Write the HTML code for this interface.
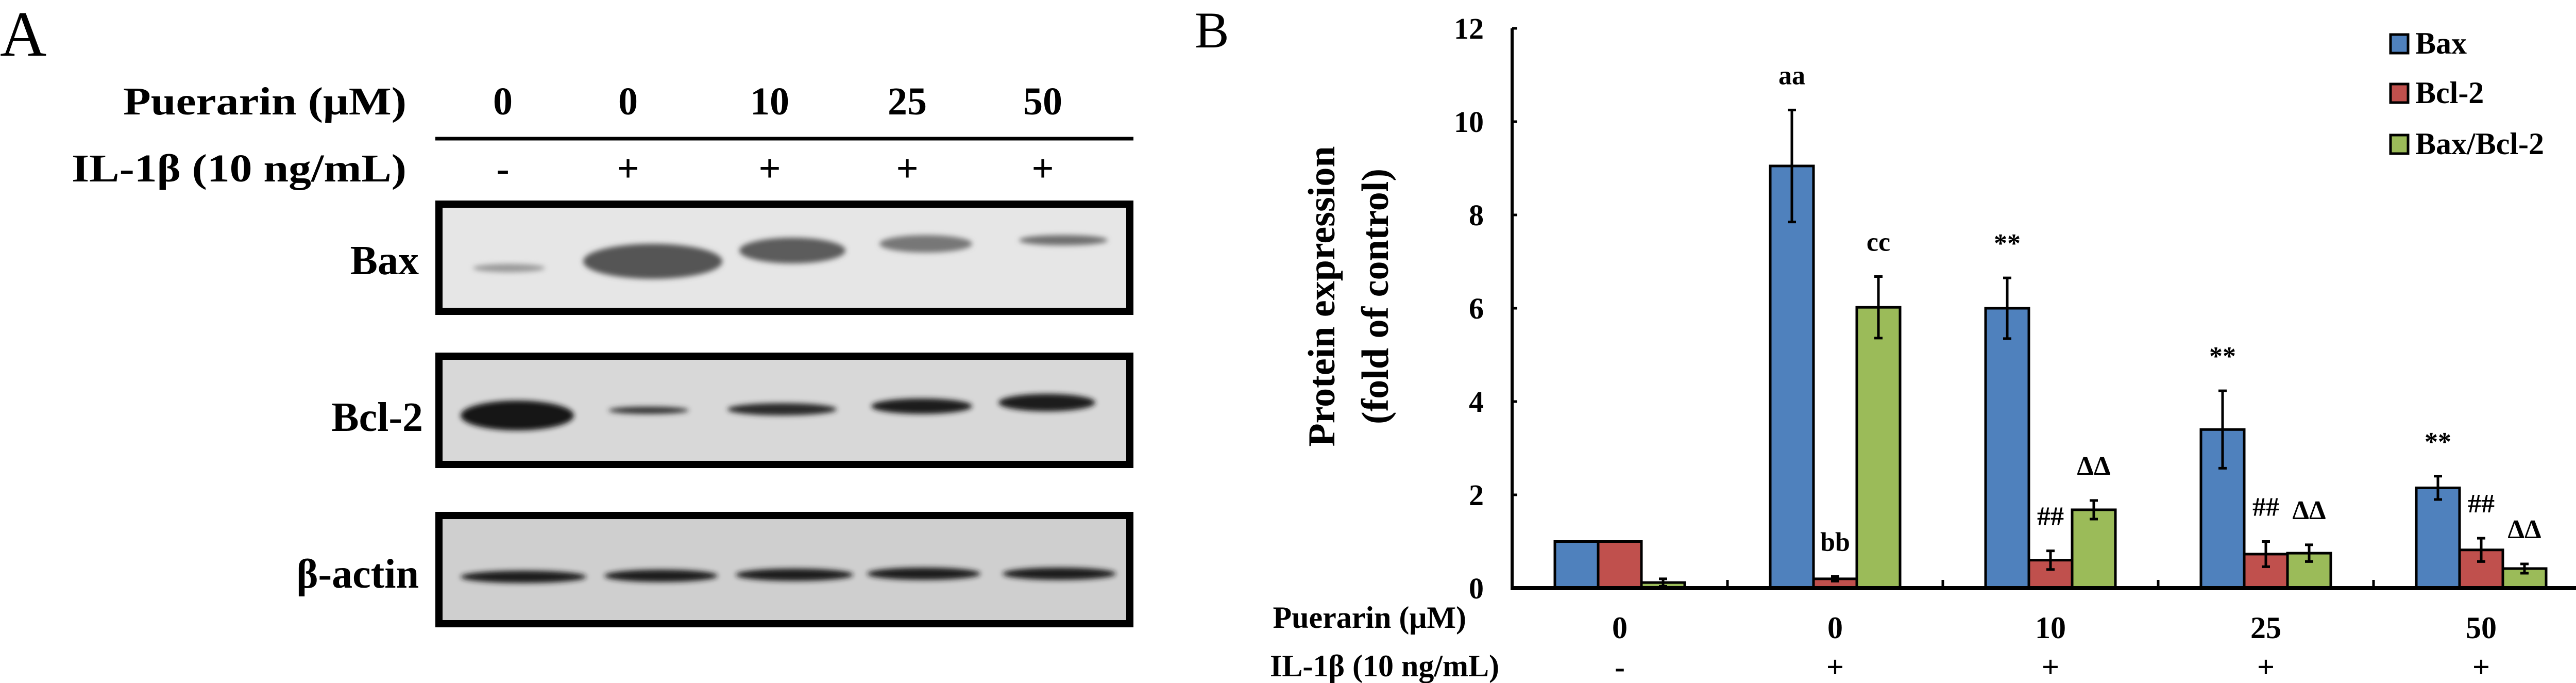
<!DOCTYPE html>
<html><head><meta charset="utf-8"><style>
html,body{margin:0;padding:0;background:#fff;}
svg{display:block;}
text{font-family:"Liberation Serif",serif;}
</style></head><body>
<svg id="fig" xmlns="http://www.w3.org/2000/svg" width="5025" height="1325" viewBox="0 0 5025 1325">
<defs>
<filter id="blur" x="-20%" y="-50%" width="140%" height="200%"><feGaussianBlur stdDeviation="5"/></filter>
</defs>
<!-- Panel A -->
<g>
<text x="0" y="108" font-size="125">A</text>
<text x="789" y="222" font-size="76" font-weight="bold" text-anchor="end" textLength="550" lengthAdjust="spacingAndGlyphs">Puerarin (μM)</text>
<text x="789" y="352" font-size="76" font-weight="bold" text-anchor="end" textLength="650" lengthAdjust="spacingAndGlyphs">IL-1β (10 ng/mL)</text>
<line x1="845" y1="269" x2="2200" y2="269" stroke="#000" stroke-width="7"/>
<g font-size="76" font-weight="bold" text-anchor="middle">
<text x="976" y="222">0</text>
<text x="1219" y="222">0</text>
<text x="1494" y="222">10</text>
<text x="1761" y="222">25</text>
<text x="2024" y="222">50</text>
<text x="976" y="352">-</text>
<text x="1219" y="352">+</text>
<text x="1494" y="352">+</text>
<text x="1761" y="352">+</text>
<text x="2024" y="352">+</text>
</g>
<!-- Bax blot -->
<rect x="852" y="396" width="1341" height="208" fill="#e6e6e6" stroke="#000" stroke-width="14"/>
<text x="813" y="532" font-size="80" font-weight="bold" text-anchor="end">Bax</text>
<g fill="#3a3a3a" filter="url(#blur)">
<ellipse cx="988" cy="520" rx="70" ry="8" fill="#999"/>
<ellipse cx="1267" cy="507" rx="135" ry="34" fill="#555"/>
<ellipse cx="1538" cy="486" rx="103" ry="25" fill="#5c5c5c"/>
<ellipse cx="1797" cy="473" rx="90" ry="17" fill="#777"/>
<ellipse cx="2064" cy="466" rx="86" ry="10" fill="#6e6e6e"/>
</g>
<!-- Bcl-2 blot -->
<rect x="852" y="691" width="1341" height="210" fill="#d8d8d8" stroke="#000" stroke-width="14"/>
<text x="821" y="836" font-size="80" font-weight="bold" text-anchor="end">Bcl-2</text>
<g filter="url(#blur)">
<ellipse cx="1004" cy="806" rx="110" ry="29" fill="#151515"/>
<ellipse cx="1259" cy="796" rx="78" ry="7" fill="#333"/>
<ellipse cx="1518" cy="794" rx="106" ry="12" fill="#2a2a2a"/>
<ellipse cx="1789" cy="788" rx="98" ry="15" fill="#1e1e1e"/>
<ellipse cx="2032" cy="781" rx="94" ry="17" fill="#1a1a1a"/>
</g>
<!-- actin blot -->
<rect x="852" y="1000" width="1341" height="210" fill="#cfcfcf" stroke="#000" stroke-width="14"/>
<text x="813" y="1140" font-size="80" font-weight="bold" text-anchor="end">β-actin</text>
<g fill="#1a1a1a" filter="url(#blur)">
<ellipse cx="1016" cy="1119" rx="122" ry="12"/>
<ellipse cx="1283" cy="1117" rx="110" ry="12"/>
<ellipse cx="1542" cy="1115" rx="114" ry="12"/>
<ellipse cx="1793" cy="1113" rx="110" ry="12"/>
<ellipse cx="2056" cy="1113" rx="110" ry="12"/>
</g>
</g>
<!-- Panel B -->
<text x="2319" y="92" font-size="100">B</text>
<g id="chart"></g>
</svg>
<script>
const doses = ["0", "0", "10", "25", "50"];
const il1b = ["-", "+", "+", "+", "+"];
const baxValues = [1.0, 9.05, 6.0, 3.4, 2.15];
const baxErrors = [0, 1.2, 0.65, 0.83, 0.25];
const bcl2Values = [1.0, 0.2, 0.6, 0.73, 0.82];
const bcl2Errors = [0, 0.05, 0.2, 0.27, 0.25];
const ratioValues = [0.12, 6.02, 1.68, 0.75, 0.42];
const ratioErrors = [0.08, 0.66, 0.2, 0.18, 0.1];
const baxMarks = ["", "aa", "**", "**", "**"];
const bcl2Marks = ["", "bb", "##", "##", "##"];
const ratioMarks = ["", "cc", "ΔΔ", "ΔΔ", "ΔΔ"];
const yTicks = [0, 2, 4, 6, 8, 10, 12];
const seriesNames = ["Bax", "Bcl-2", "Bax/Bcl-2"];

const NS = "http://www.w3.org/2000/svg";
const g = document.getElementById("chart");
const X0 = 2935, X1 = 5025, Y0 = 1141, Y1 = 55, YMAX = 12;
const groupW = (X1 - X0) / doses.length;
const barW = 84;
function y(v){ return Y0 - (v / YMAX) * (Y0 - Y1); }
function gx(i){ return X0 + groupW * (i + 0.5); }
function mk(tag, attrs, parent){
  const e = document.createElementNS(NS, tag);
  for (const k in attrs) e.setAttribute(k, attrs[k]);
  (parent || g).appendChild(e);
  return e;
}
// axis title
const t1 = mk("text", {x: 0, y: 0, "font-size": 74, "font-weight": "bold", "text-anchor": "middle", transform: "translate(2590,575) rotate(-90)"});
t1.textContent = "Protein expression";


const t2 = mk("text", {x: 0, y: 0, "font-size": 74, "font-weight": "bold", "text-anchor": "middle", transform: "translate(2694,575) rotate(-90)"});
t2.textContent = "(fold of control)";


// y ticks
yTicks.forEach(v => {
  const tl = mk("text", {x: 2880, y: y(v) + 20, "font-size": 58, "font-weight": "bold", "text-anchor": "end"});
  tl.textContent = v;
  
  
  const tk = mk("line", {x1: X0, x2: X0 + 10, y1: y(v), y2: y(v), stroke: "#000", "stroke-width": 5});
  
  
});
const colors = ["#4f81bd", "#c0504d", "#9bbb59"];
const vals = [baxValues, bcl2Values, ratioValues];
const errs = [baxErrors, bcl2Errors, ratioErrors];
const marks = [baxMarks, bcl2Marks, ratioMarks];
const keys = ["bax", "bcl2", "ratio"];
doses.forEach((d, i) => {
  for (let s = 0; s < 3; s++) {
    const v = vals[s][i], e = errs[s][i];
    const bx = gx(i) + (s - 1.5) * barW;
    const r = mk("rect", {x: bx, y: y(v), width: barW, height: Y0 - y(v), fill: colors[s], stroke: "#000", "stroke-width": 5});
    
    
    if (e > 0) {
      const cx = bx + barW / 2;
      const eb = mk("path", {d: `M${cx},${y(v+e)}V${y(v-e)}M${cx-8},${y(v+e)}H${cx+8}M${cx-8},${y(v-e)}H${cx+8}`, stroke: "#000", "stroke-width": 5, fill: "none"});
      
      
    }
    if (marks[s][i]) {
      const top = y(v + e);
      const m = mk("text", {x: bx + barW / 2, y: top - 50, "font-size": 52, "font-weight": "bold", "text-anchor": "middle"});
      m.textContent = marks[s][i];
      
      
    }
  }
  const dl = mk("text", {x: gx(i), y: 1238, "font-size": 60, "font-weight": "bold", "text-anchor": "middle"});
  dl.textContent = d;
  
  
  const il = mk("text", {x: gx(i), y: 1314, "font-size": 60, "font-weight": "bold", "text-anchor": "middle"});
  il.textContent = il1b[i];
  
  
  const tk = mk("line", {x1: X0 + groupW * (i + 1), x2: X0 + groupW * (i + 1), y1: Y0, y2: Y0 - 16, stroke: "#000", "stroke-width": 5});
  
  
});
const ya = mk("line", {x1: X0, x2: X0, y1: Y1, y2: Y0 + 4, stroke: "#000", "stroke-width": 6});


const xa = mk("line", {x1: X0, x2: X1, y1: Y0, y2: Y0, stroke: "#000", "stroke-width": 8});


const pl = mk("text", {x: 2846, y: 1218, "font-size": 60, "font-weight": "bold", "text-anchor": "end"});
pl.textContent = "Puerarin (μM)";


const il2 = mk("text", {x: 2910, y: 1312, "font-size": 60, "font-weight": "bold", "text-anchor": "end"});
il2.textContent = "IL-1β (10 ng/mL)";


// legend
const legY = [84, 180, 279];
seriesNames.forEach((n, s) => {
  const sq = mk("rect", {x: 4640, y: legY[s] - 17, width: 34, height: 36, fill: colors[s], stroke: "#000", "stroke-width": 5});
  
  
  const lt = mk("text", {x: 4688, y: legY[s] + 20, "font-size": 60, "font-weight": "bold"});
  lt.textContent = n;
  
  
});
</script>
</body></html>
